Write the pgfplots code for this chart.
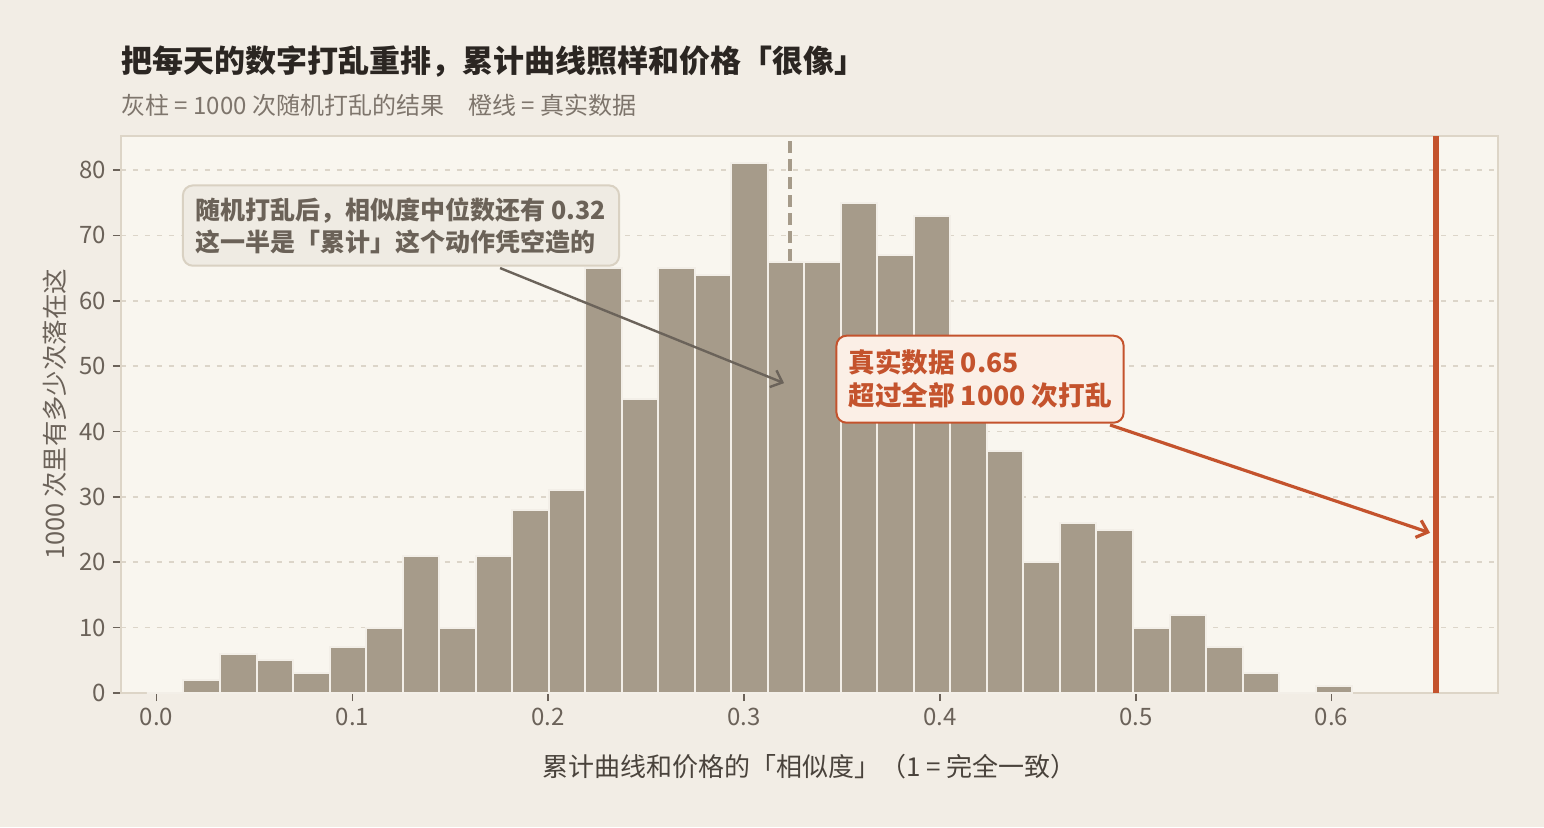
\documentclass[border=0pt]{standalone}
\usepackage{fontspec}
\setmainfont{Noto Sans CJK SC}
\usepackage{pgfplots}
\usepackage{pgfplotstable}
\pgfplotsset{compat=1.18}
\usetikzlibrary{arrows.meta}
\definecolor{bgout}{HTML}{F2EDE5}
\definecolor{bgin}{HTML}{F9F6EF}
\definecolor{barc}{HTML}{A69B8A}
\definecolor{baredge}{HTML}{F3EFE8}
\definecolor{framec}{HTML}{DDD5C7}
\definecolor{gridc}{HTML}{DCD5C9}
\definecolor{tickc}{HTML}{6B6259}
\definecolor{xlabc}{HTML}{4A433C}
\definecolor{titlec}{HTML}{2B2622}
\definecolor{subc}{HTML}{7E756C}
\definecolor{redc}{HTML}{C4532D}
\definecolor{redfill}{HTML}{FBEFE6}
\definecolor{grayfill}{HTML}{EFEBE3}
\definecolor{grayborder}{HTML}{D9D1C2}
\definecolor{graytext}{HTML}{6B6258}
\definecolor{grayarrow}{HTML}{6B635A}

% bin edges (left) and counts; last row closes the final interval
\pgfplotstableread{
x y
-0.00495 0
0.01370 2
0.03235 6
0.05100 5
0.06965 3
0.08830 7
0.10695 10
0.12560 21
0.14425 10
0.16290 21
0.18155 28
0.20020 31
0.21885 65
0.23750 45
0.25615 65
0.27480 64
0.29345 81
0.31210 66
0.33075 66
0.34940 75
0.36805 67
0.38670 73
0.40535 48
0.42400 37
0.44265 20
0.46130 26
0.47995 25
0.49860 10
0.51725 12
0.53590 7
0.55455 3
0.57320 0
0.59185 1
0.61050 0
}\histdata

\begin{document}
\begin{tikzpicture}
\fill[bgout] (-60.5pt,-67pt) rectangle (711.5pt,346.5pt);
\path[use as bounding box] (-60.5pt,-67pt) rectangle (711.5pt,346.5pt);

\node[anchor=west, inner sep=0pt, text=titlec, font=\bfseries\fontsize{15.5}{18}\selectfont] at (0pt,315.5pt)
  {把每天的数字打乱重排，累计曲线照样和价格「很像」};
\node[anchor=west, inner sep=0pt, text=subc, font=\fontsize{12}{14}\selectfont] at (0pt,294pt)
  {灰柱 = 1000 次随机打乱的结果\quad 橙线 = 真实数据};

\begin{axis}[
  at={(0,0)}, anchor=south west,
  scale only axis, width=688.5pt, height=278.5pt,
  xmin=-0.0182, xmax=0.685, ymin=0, ymax=85.2,
  axis background/.style={fill=bgin},
  axis line style={framec, line width=1pt},
  xtick={0,0.1,0.2,0.3,0.4,0.5,0.6},
  ytick={0,10,20,30,40,50,60,70,80},
  x tick label style={/pgf/number format/.cd, fixed, fixed zerofill, precision=1},
  /pgf/number format/assume math mode=true,
  tick label style={font=\fontsize{12}{14}\selectfont, text=tickc},
  tick align=outside, tick pos=left, major tick length=4pt,
  tick style={tickc, line width=0.8pt},
  ymajorgrids,
  grid style={gridc, dash pattern=on 2.5pt off 3.5pt, line width=0.8pt},
  xlabel={累计曲线和价格的「相似度」（1 = 完全一致）},
  ylabel={1000 次里有多少次落在这},
  every axis x label/.style={at={(axis description cs:0.5,-0.133)}, anchor=center, font=\fontsize{13}{15}\selectfont, text=xlabc},
  every axis y label/.style={at={(axis description cs:-0.048,0.5)}, anchor=center, rotate=90, font=\fontsize{12.7}{15}\selectfont, text=tickc},
  clip=false,
]
% median of shuffles (behind bars)
\addplot[barc, line width=1.8pt, dash pattern=on 6pt off 3pt] coordinates {(0.3234,0) (0.3234,85.2)};
% histogram
\addplot[ybar interval, fill=barc, draw=baredge, line width=1pt] table[x=x, y=y] {\histdata};
% real value
\addplot[redc, line width=2.7pt] coordinates {(0.6534,0) (0.6534,85.2)};

\draw[grayarrow, line width=1.2pt, -{Straight Barb[length=5pt,width=9pt]}] (axis cs:0.1754,65.0) -- (axis cs:0.3204,47.4);
\draw[redc, line width=1.6pt, -{Straight Barb[length=5pt,width=9pt]}] (axis cs:0.4869,41.0) -- (axis cs:0.6503,24.5);

\node[draw=grayborder, fill=grayfill, rounded corners=5pt, line width=1pt, inner xsep=6.5pt, inner ysep=6pt,
  align=left, text=graytext, font=\bfseries\fontsize{12.5}{16}\selectfont] at (axis cs:0.1248,71.5)
  {随机打乱后，相似度中位数还有 0.32\\这一半是「累计」这个动作凭空造的};
\node[draw=redc, fill=redfill, rounded corners=5pt, line width=1pt, inner xsep=6pt, inner ysep=7pt,
  align=left, text=redc, font=\bfseries\fontsize{13.3}{16.5}\selectfont] at (axis cs:0.4205,48.0)
  {真实数据 0.65\\超过全部 1000 次打乱};
\end{axis}
\end{tikzpicture}
\end{document}
